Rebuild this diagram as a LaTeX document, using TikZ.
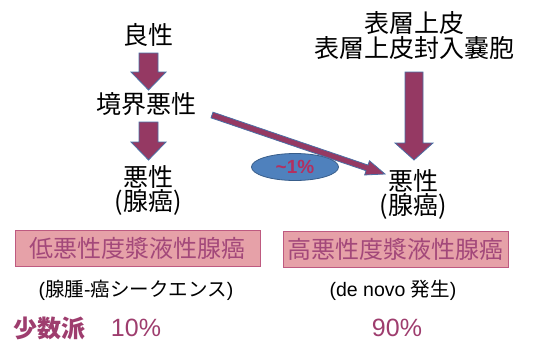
\documentclass[tikz,border=0pt]{standalone}
\usepackage{fontspec}
\setmainfont{Liberation Sans}
\newfontfamily\jp{Noto Sans CJK JP}
\usetikzlibrary{calc,shapes.geometric}
\definecolor{arrfill}{HTML}{953963}
\definecolor{arrdraw}{HTML}{4A6FA5}
\definecolor{boxfill}{HTML}{E6A1A8}
\definecolor{boxdraw}{HTML}{BE5A80}
\definecolor{boxtext}{HTML}{A3487A}
\definecolor{purp}{HTML}{9E3D6E}
\definecolor{ellfill}{HTML}{4F81BD}
\definecolor{elldraw}{HTML}{385D8A}
\definecolor{elltext}{HTML}{B33060}
\tikzset{
  bigtxt/.style={inner sep=0pt, font=\jp\fontsize{25}{26}\selectfont},
  midtxt/.style={inner sep=0pt, font=\fontsize{19.5}{21}\selectfont},
  pctxt/.style={inner sep=0pt, text=purp, font=\fontsize{25}{27}\selectfont},
  typebox/.style={draw=boxdraw, line width=0.8pt, fill=boxfill, text=boxtext, inner sep=0pt,
    minimum height=36pt, font=\jp\fontsize{24}{25}\selectfont},
  blockarrow/.style={fill=arrfill, draw=arrdraw, line width=0.8pt, line join=miter},
  pctell/.style={ellipse, draw=elldraw, line width=0.8pt, fill=ellfill, text=elltext,
    minimum width=87pt, minimum height=27pt, inner sep=0pt, font=\bfseries\fontsize{19}{20}\selectfont}
}
\newcommand{\blockarr}[5]{%
  \coordinate (ba-h) at ($(#2)!#5!(#1)$);
  \draw[blockarrow] ($(#1)!#3!90:(#2)$) -- ($(ba-h)!#3!90:(#2)$) -- ($(ba-h)!#4!90:(#2)$)
    -- (#2) -- ($(ba-h)!#4!-90:(#2)$) -- ($(ba-h)!#3!-90:(#2)$) -- ($(#1)!#3!-90:(#2)$) -- cycle;}
\begin{document}
\begin{tikzpicture}[x=1pt,y=-1pt]
\useasboundingbox (0,0) rectangle (548,341);
% left column
\node[bigtxt] (ryo) at (148,35) {良性};
\node[bigtxt] (kyo) at (146,104) {境界悪性};
\node[bigtxt] (aku1) at (148,177) {悪性};
\node[bigtxt] (sen1) at (148,202) {(腺癌)};
% right column
\node[bigtxt] (hyo1) at (414,23) {表層上皮};
\node[bigtxt] (hyo2) at (414,48) {表層上皮封入嚢胞};
\node[bigtxt] (aku2) at (413,181) {悪性};
\node[bigtxt] (sen2) at (413,206) {(腺癌)};
% arrow ends
\coordinate (a1s) at (148.5,53);  \coordinate (a1e) at (148.5,90);
\coordinate (a2s) at (148.5,122); \coordinate (a2e) at (148.5,160);
\coordinate (a3s) at (414,72);    \coordinate (a3e) at (414,160);
\coordinate (a4s) at (212,115);   \coordinate (a4e) at (385,174);
% ellipse
\node[pctell] (ell) at (295,167) {\textasciitilde1\%};
% arrows
\blockarr{a1s}{a1e}{9.5pt}{17.5pt}{18pt}
\blockarr{a2s}{a2e}{9.5pt}{17.5pt}{18pt}
\blockarr{a3s}{a3e}{9pt}{19pt}{17pt}
\blockarr{a4s}{a4e}{3pt}{7.5pt}{19pt}
% boxes
\node[typebox, minimum width=245pt] (box1) at (137.5,248) {低悪性度漿液性腺癌};
\node[typebox, minimum width=225pt] (box2) at (395.5,249) {高悪性度漿液性腺癌};
% subtitles
\node[midtxt] (seq) at (136,290) {({\jp 腺腫}-{\jp 癌シークエンス})};
\node[midtxt] (dn) at (393,290) {(de novo {\jp 発生})};
% bottom
\node[pctxt, font=\jp\bfseries\fontsize{24}{26}\selectfont] (sho) at (49,328) {少数派};
\node[pctxt] (p10) at (136,328) {10\%};
\node[pctxt] (p90) at (397,328) {90\%};
\end{tikzpicture}
\end{document}
